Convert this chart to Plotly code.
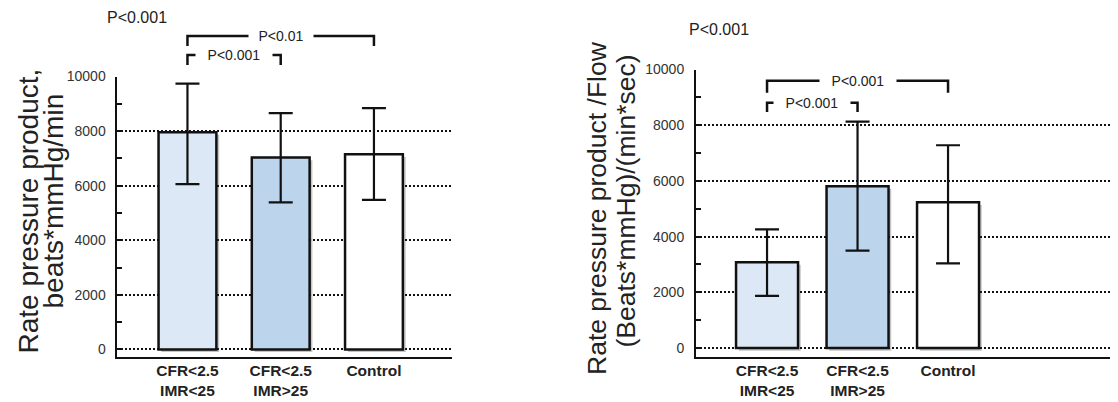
import plotly.graph_objects as go

W, H = 1118, 402
PAGE_OFFSET = 8  # default body margin of the html page

# ---------------- data ----------------
categories = ["CFR<2.5\nIMR<25", "CFR<2.5\nIMR>25", "Control"]
bar_colors = ["#dce8f5", "#bcd5ec", "#ffffff"]

rpp_mean = [7960, 7030, 7150]
rpp_err_plus = [1780, 1630, 1690]
rpp_err_minus = [1900, 1640, 1670]

flow_mean = [3080, 5810, 5230]
flow_err_plus = [1180, 2320, 2050]
flow_err_minus = [1210, 2310, 2190]

y_ticks = [0, 2000, 4000, 6000, 8000, 10000]
y_tick_labels = ["0", "2000", "4000", "6000", "8000", "10000"]

left_title = ["Rate pressure product,", "beats*mmHg/min"]
right_title = ["Rate pressure product /Flow", "(Beats*mmHg)/(min*sec)"]
overall_p = "P<0.001"
# (from category, to category, label)
left_brackets = [(0, 2, "P<0.01"), (0, 1, "P<0.001")]
right_brackets = [(0, 2, "P<0.001"), (0, 1, "P<0.001")]

FONT = "Liberation Sans, Arial, sans-serif"


def esc(s):
    return s.replace("<", "&lt;").replace(">", "&gt;").replace("\n", "<br>")


def px(x):
    return (x - PAGE_OFFSET) / W


def py(y):
    return 1 - (y - PAGE_OFFSET) / H


xpos = list(range(len(categories)))
tick_text = [esc(c) for c in categories]

fig = go.Figure()


def add_panel(xa, ya, means, eplus, eminus, bw, sdx, sdy):
    # soft drop shadow
    fig.add_trace(go.Bar(
        x=xpos, y=means, base=[-sdy] * len(means), width=bw,
        offset=-bw / 2 + sdx, marker=dict(color="rgba(60,60,60,0.30)", line=dict(width=0)),
        xaxis=xa, yaxis=ya, hoverinfo="skip", showlegend=False))
    fig.add_trace(go.Bar(
        x=xpos, y=means, width=bw,
        marker=dict(color=bar_colors, line=dict(color="#111111", width=2.5)),
        error_y=dict(type="data", symmetric=False, array=eplus, arrayminus=eminus,
                     color="#111111", thickness=2.2, width=12),
        xaxis=xa, yaxis=ya, showlegend=False))


add_panel("x", "y", rpp_mean, rpp_err_plus, rpp_err_minus, 0.62, 0.03, 95)
add_panel("x2", "y2", flow_mean, flow_err_plus, flow_err_minus, 0.685, 0.03, 95)

yax_common = dict(
    tickvals=y_ticks, ticktext=y_tick_labels,
    showgrid=True, gridcolor="#111111", griddash="2px,2px", gridwidth=1.5,
    zeroline=False, showline=True, linecolor="#111111", linewidth=2,
    ticks="inside", ticklen=6, tickwidth=2, tickcolor="#111111",
    minor=dict(ticks="inside", ticklen=5, tickwidth=1.5, dtick=1000, tick0=0,
               tickcolor="#111111", showgrid=False),
    tickfont=dict(family=FONT, size=14, color="#333333"),
    automargin=False,
)
xax_common = dict(
    tickvals=xpos, ticktext=tick_text, showgrid=False, zeroline=False,
    showline=True, linecolor="#111111", linewidth=2, ticks="",
    tickfont=dict(family=FONT, size=15.5, color="#222222", weight="bold"),
    ticklabelstandoff=-2, automargin=False,
)

fig.update_layout(
    width=W, height=H, margin=dict(l=0, r=0, t=0, b=0, pad=0, autoexpand=False),
    paper_bgcolor="white", plot_bgcolor="white", barmode="overlay",
    showlegend=False,
    xaxis=dict(domain=[px(116.5), px(452)], range=[-0.761, 2.837], anchor="y", **xax_common),
    yaxis=dict(domain=[py(357), py(76.5)], range=[-275, 10000], anchor="x",
               ticklabelstandoff=6, **yax_common),
    xaxis2=dict(domain=[px(696), 1.0], range=[-0.785, 3.878 + PAGE_OFFSET / 90.5], anchor="y2",
                **xax_common),
    yaxis2=dict(domain=[py(357), py(69.5)], range=[-323, 10000], anchor="x2",
                ticklabelstandoff=7, **yax_common),
)

shapes = []
annots = []


def add_brackets(xref, specs, levels):
    for (a, b, label), (ytop, ybot, bw, bh) in zip(specs, levels):
        path = f"M {a},{py(ybot)} L {a},{py(ytop)} L {b},{py(ytop)} L {b},{py(ybot)}"
        shapes.append(dict(type="path", path=path, xref=xref, yref="paper",
                           line=dict(color="#111111", width=2.5)))
        annots.append(dict(text=esc(label), x=(a + b) / 2, y=py(ytop), xref=xref, yref="paper",
                           xanchor="center", yanchor="middle", showarrow=False,
                           bgcolor="white", borderpad=0, width=bw, height=bh,
                           font=dict(family=FONT, size=14, color="#222222")))


add_brackets("x", left_brackets, [(36, 46, 64, 20), (55, 65, 76, 20)])
add_brackets("x2", right_brackets, [(80.7, 92.7, 76, 26), (102.7, 112, 76, 20)])

annots.append(dict(text=esc(overall_p), x=px(136.5), y=py(17.5), xref="paper", yref="paper",
                   showarrow=False, xanchor="center", yanchor="middle",
                   font=dict(family=FONT, size=16, color="#222222")))
annots.append(dict(text=esc(overall_p), x=px(719), y=py(29), xref="paper", yref="paper",
                   showarrow=False, xanchor="center", yanchor="middle",
                   font=dict(family=FONT, size=16, color="#222222")))

for txt, xc, yc, fs in [(left_title[0], 28, 211.5, 28), (left_title[1], 53, 201.5, 28),
                        (right_title[0], 597, 208, 26.5), (right_title[1], 625, 201.5, 26.5)]:
    annots.append(dict(text=esc(txt), x=px(xc), y=py(yc), xref="paper", yref="paper",
                       textangle=-90, showarrow=False, xanchor="center", yanchor="middle",
                       font=dict(family=FONT, size=fs, color="#222222")))

fig.update_layout(shapes=shapes, annotations=annots)
fig.write_html("out.html")
